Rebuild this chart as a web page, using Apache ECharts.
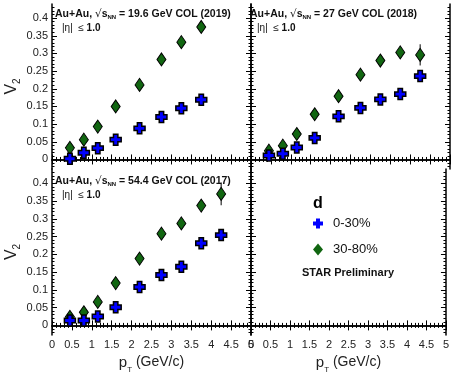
<!DOCTYPE html>
<html>
<head>
<meta charset="utf-8">
<script src="https://cdn.jsdelivr.net/npm/echarts@6/dist/echarts.min.js"></script>
</head>
<body style="margin:0;background:#fff">
<div id="main" style="width:452px;height:376px"></div>
<script type="text/javascript">
// pT bin centres (GeV/c)
var ptBins = [0.45, 0.8, 1.15, 1.6, 2.2, 2.75, 3.25, 3.75, 4.25];

// v2 values, 0-30% and 30-80%
var v2Cent196 = [0.002, 0.019, 0.032, 0.056, 0.088, 0.120, 0.145, 0.169];
var v2Peri196 = [0.033, 0.056, 0.093, 0.150, 0.211, 0.283, 0.332, 0.375];
var err196c = [0.004, 0.004, 0.004, 0.004, 0.005, 0.005, 0.006, 0.008];
var err196p = [0.004, 0.004, 0.004, 0.005, 0.005, 0.006, 0.007, 0.009];

var v2Cent27 = [0.011, 0.016, 0.034, 0.061, 0.122, 0.146, 0.170, 0.185, 0.236];
var v2Peri27 = [0.025, 0.039, 0.072, 0.128, 0.179, 0.240, 0.280, 0.303, 0.296];
var err27c = [0.003, 0.003, 0.003, 0.004, 0.004, 0.005, 0.006, 0.008, 0.012];
var err27p = [0.004, 0.004, 0.004, 0.005, 0.005, 0.006, 0.008, 0.010, 0.030];

var v2Cent544 = [0.014, 0.014, 0.025, 0.051, 0.108, 0.142, 0.165, 0.231, 0.254];
var v2Peri544 = [0.024, 0.037, 0.066, 0.119, 0.188, 0.258, 0.287, 0.337, 0.370];
var err544c = [0.003, 0.003, 0.003, 0.004, 0.004, 0.005, 0.006, 0.008, 0.012];
var err544p = [0.004, 0.004, 0.004, 0.005, 0.005, 0.006, 0.008, 0.011, 0.032];

var yTicks = [0, 0.05, 0.1, 0.15, 0.2, 0.25, 0.3, 0.35, 0.4];
var panelTitles = ['19.6 GeV COL (2019)', '27 GeV COL (2018)', '54.4 GeV COL (2017)'];

var yMin = -0.027, yMax = 0.44;
var minorTicks = [];
for (var k = -2; k <= 43; k++) minorTicks.push(k / 100);

var crossPath = 'path://M3,0H7V3H10V7H7V10H3V7H0V3H3Z';
var blue = '#0000ff', green = '#116611';

var myChart = echarts.init(document.getElementById('main'));

var grids = [
    {left: 52, top: 4, width: 199, height: 165},
    {left: 251, top: 4, width: 199, height: 165},
    {left: 52, top: 169, width: 199, height: 166},
    {left: 251, top: 169, width: 199, height: 166}
];

var frame = {show: true, lineStyle: {color: '#000', width: 1.5}};
var xAxes = [], yAxes = [];
for (var g = 0; g < 4; g++) {
    var bottomRow = g >= 2, leftCol = (g % 2 === 0);
    ['bottom', 'top'].forEach(function (pos) {
        var lab = bottomRow && pos === 'bottom';
        xAxes.push({
            type: 'value', gridIndex: g, position: pos, min: 0, max: 5, interval: 0.5,
            axisLine: frame,
            axisTick: {inside: true, length: 5, lineStyle: {color: '#000'}},
            minorTick: {show: true, splitNumber: 5, length: 2.5, lineStyle: {color: '#000'}},
            splitLine: {show: false},
            axisLabel: {show: lab, fontSize: 11, color: '#222', margin: 4, fontFamily: 'Liberation Sans'},
            name: lab ? '{p|p}{t|T}{g| (GeV/c)}' : '',
            nameLocation: 'middle', nameGap: 20,
            nameTextStyle: {rich: {
                p: {fontSize: 15, color: '#222', fontFamily: 'Liberation Sans'},
                t: {fontSize: 8, color: '#222', fontFamily: 'Liberation Sans', verticalAlign: 'bottom', lineHeight: 8, padding: [0, 0, -4, 0]},
                g: {fontSize: 14, color: '#222', fontFamily: 'Liberation Sans'}
            }}
        });
    });
    ['left', 'right'].forEach(function (pos) {
        var lab = leftCol && pos === 'left';
        yAxes.push({
            type: 'value', gridIndex: g, position: pos, min: yMin, max: yMax,
            axisLine: frame,
            axisTick: {inside: true, length: 5, customValues: yTicks, lineStyle: {color: '#000'}},
            splitLine: {show: false},
            axisLabel: {show: lab, customValues: yTicks, fontSize: 11, color: '#222', margin: 4, fontFamily: 'Liberation Sans'},
            name: lab ? '{v|V}{s|2}' : '',
            nameLocation: 'middle', nameRotate: 90, nameGap: 31,
            nameTextStyle: {rich: {
                v: {fontSize: 16, color: '#222', fontFamily: 'Liberation Sans'},
                s: {fontSize: 10, color: '#222', fontFamily: 'Liberation Sans', verticalAlign: 'bottom', lineHeight: 10, padding: [0, 0, -3, 0]}
            }}
        });
        yAxes.push({
            type: 'value', gridIndex: g, position: pos, min: yMin, max: yMax,
            axisLine: {show: false},
            axisTick: {inside: true, length: 2.5, customValues: minorTicks, lineStyle: {color: '#000'}},
            splitLine: {show: false},
            axisLabel: {show: false}
        });
    });
}

function pts(vals) {
    return vals.map(function (v, i) { return [ptBins[i], v]; });
}

function errSeries(g, vals, errs) {
    return {
        type: 'custom', xAxisIndex: g * 2, yAxisIndex: g * 4, silent: true, z: 1,
        data: vals.map(function (v, i) { return [ptBins[i], v, errs[i]]; }),
        renderItem: function (params, api) {
            var lo = api.coord([api.value(0), api.value(1) - api.value(2)]);
            var hi = api.coord([api.value(0), api.value(1) + api.value(2)]);
            return {type: 'line', shape: {x1: lo[0], y1: lo[1], x2: hi[0], y2: hi[1]},
                style: {stroke: '#000', lineWidth: 1}};
        }
    };
}

var sets = [
    [v2Cent196, v2Peri196, err196c, err196p],
    [v2Cent27, v2Peri27, err27c, err27p],
    [v2Cent544, v2Peri544, err544c, err544p]
];
var series = [];
sets.forEach(function (s, g) {
    series.push(errSeries(g, s[0], s[2]));
    series.push(errSeries(g, s[1], s[3]));
    series.push({
        name: '30-80%', type: 'scatter', xAxisIndex: g * 2, yAxisIndex: g * 4, z: 3,
        symbol: 'diamond', symbolSize: [9, 13], data: pts(s[1]),
        itemStyle: {color: green, borderColor: '#000', borderWidth: 1, opacity: 1}
    });
    series.push({
        name: '0-30%', type: 'scatter', xAxisIndex: g * 2, yAxisIndex: g * 4, z: 4,
        symbol: crossPath, symbolSize: 11, data: pts(s[0]),
        itemStyle: {color: blue, borderColor: '#000', borderWidth: 1.5, opacity: 1}
    });
});

var graphics = [];
var titlePos = [[55, 9], [250, 9], [55, 176]];
titlePos.forEach(function (p, i) {
    graphics.push({
        type: 'text', left: p[0], top: p[1], z: 10,
        style: {
            text: '{b|Au+Au, }{r|√}{s|s}{n|NN}{b| = ' + panelTitles[i] + '}',
            rich: {
                b: {fontSize: 10.5, fontWeight: 'bold', fill: '#111', fontFamily: 'Liberation Sans', lineHeight: 12},
                r: {fontSize: 10.5, fill: '#111', fontFamily: 'DejaVu Sans', lineHeight: 12},
                s: {fontSize: 10.5, fontWeight: 'bold', fill: '#111', fontFamily: 'Liberation Sans', lineHeight: 12},
                n: {fontSize: 6, fontWeight: 'bold', fill: '#111', fontFamily: 'Liberation Sans', verticalAlign: 'bottom', lineHeight: 6}
            }
        }
    });
    graphics.push({
        type: 'text', left: p[0] + 7, top: p[1] + 14, z: 10,
        style: {
            text: '{a||η|  ≤ }{b|1.0}',
            rich: {
                a: {fontSize: 10, fill: '#111', fontFamily: 'Liberation Sans'},
                b: {fontSize: 10, fontWeight: 'bold', fill: '#111', fontFamily: 'Liberation Sans'}
            }
        }
    });
});
graphics.push({
    type: 'text', left: 313, top: 196, z: 10,
    style: {text: 'd', fontSize: 16, fontWeight: 'bold', fill: '#000', fontFamily: 'Liberation Sans'}
});
graphics.push({
    type: 'text', left: 302, top: 267, z: 10,
    style: {text: 'STAR Preliminary', fontSize: 11, fontWeight: 'bold', fill: '#111', fontFamily: 'Liberation Sans'}
});

var option = {
    backgroundColor: '#fff',
    animation: false,
    grid: grids,
    xAxis: xAxes,
    yAxis: yAxes,
    legend: {
        orient: 'vertical', left: 308, top: 212, itemWidth: 10, itemHeight: 12, itemGap: 13,
        textStyle: {fontSize: 13, color: '#111', fontFamily: 'Liberation Sans', padding: [0, 0, 0, 5]},
        data: [
            {name: '0-30%', icon: crossPath, itemStyle: {color: blue, borderWidth: 0}},
            {name: '30-80%', icon: 'diamond', itemStyle: {color: green, borderWidth: 0}}
        ]
    },
    graphic: graphics,
    series: series
};
myChart.setOption(option);
</script>
</body>
</html>
